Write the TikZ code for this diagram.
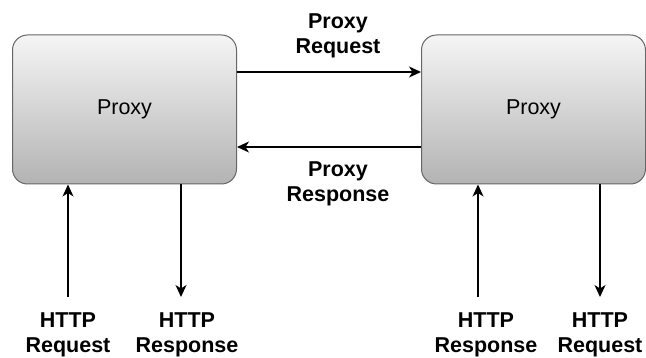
\documentclass[tikz,border=0pt]{standalone}
\usepackage{fontspec}
\setmainfont{Liberation Sans}
\usetikzlibrary{arrows.meta}
\definecolor{boxtop}{HTML}{F5F5F5}
\definecolor{boxbot}{HTML}{B3B3B3}
\definecolor{boxline}{HTML}{666666}
\tikzset{
	proxybox/.style={draw=boxline, line width=1pt, rounded corners=15pt, top color=boxtop, bottom color=boxbot, minimum width=224pt, minimum height=149pt, font=\fontsize{21.5}{25}\selectfont},
	lbl/.style={align=center, inner sep=0pt, anchor=base, font=\fontsize{21.5}{25}\selectfont\bfseries},
	flow/.style={line width=1.3pt, -{Stealth[length=12pt, width=11pt, inset=3.5pt]}}
}

\begin{document}
\begin{tikzpicture}[x=1pt, y=-1pt]
			%%%%% START %%%%%
			\useasboundingbox (0, 0) rectangle (646, 358);
			
			\node[proxybox] (left) at (124.5, 109.5) {Proxy};
			\node[proxybox] (right) at (533.5, 109.5) {Proxy};
			
			\node[lbl] (preq) at (338, 54) {Proxy\\Request};
			\node[lbl] (pres) at (338, 202) {Proxy\\Response};
			
			\draw[flow] ([yshift=37.5pt]left.east) -- ([yshift=37.5pt]right.west);
			\draw[flow] ([yshift=-37.5pt]right.west) -- ([yshift=-37.5pt]left.east);
			
			\node[lbl] (lreq) at (68, 353) {HTTP\\Request};
			\node[lbl] (lres) at (187, 353) {HTTP\\Response};
			\node[lbl] (rres) at (486, 353) {HTTP\\Response};
			\node[lbl] (rreq) at (600, 353) {HTTP\\Request};
			
			\coordinate (lin) at (68, 297);
			\coordinate (lout) at (181, 297);
			\coordinate (rin) at (478, 297);
			\coordinate (rout) at (600, 297);
			
			\draw[flow] (lin) -- (left.south -| lin);
			\draw[flow] (left.south -| lout) -- (lout);
			\draw[flow] (rin) -- (right.south -| rin);
			\draw[flow] (right.south -| rout) -- (rout);
			
			%%%%% END %%%%%
\end{tikzpicture}
\end{document}
